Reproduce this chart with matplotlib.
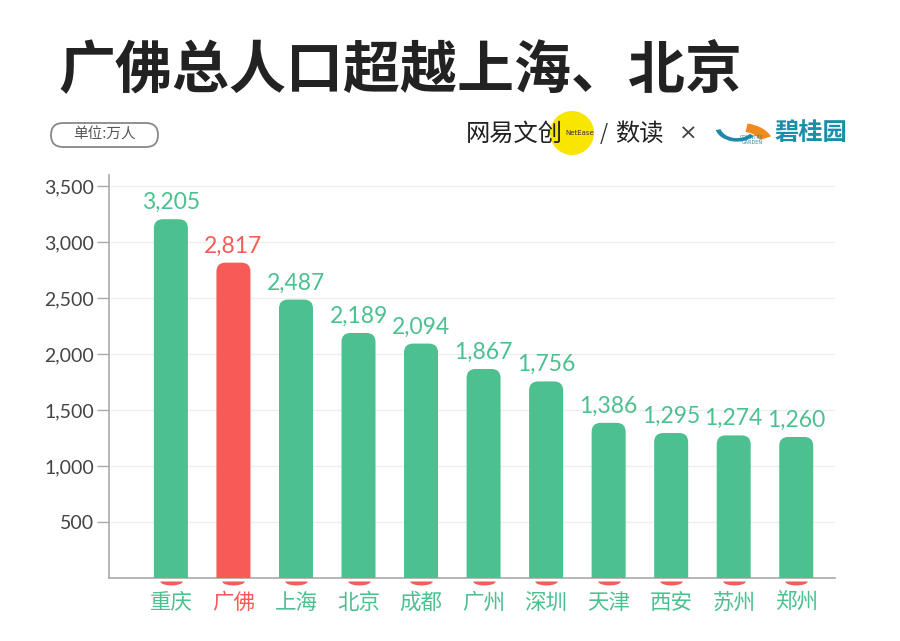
import numpy as np
import matplotlib
matplotlib.use('Agg')
import matplotlib.pyplot as plt
from matplotlib.patches import FancyBboxPatch, Ellipse, Wedge
from matplotlib.path import Path
from matplotlib.transforms import IdentityTransform

plt.rcParams['font.family'] = ['Noto Sans CJK SC', 'DejaVu Sans']

# 常住人口（万人）
cities = ['重庆', '广佛', '上海', '北京', '成都', '广州', '深圳', '天津', '西安', '苏州', '郑州']
population = [3205, 2817, 2487, 2189, 2094, 1867, 1756, 1386, 1295, 1274, 1260]
highlight = '广佛'
yticks = [500, 1000, 1500, 2000, 2500, 3000, 3500]

green = '#4cc08f'
red = '#f75a57'

W, H = 900, 641
fig = plt.figure(figsize=(9, 6.41), dpi=100)
ax = fig.add_axes([109 / W, 1 - 578 / H, (835 - 109) / W, (578 - 175) / H])

def fpos(x, y):
    return x / W, 1 - y / H

xs = np.arange(len(cities))
ax.set_xlim(-0.99, len(cities) - 0.38)
ax.set_ylim(0, 3600)

# rounded bars, corner radius corrected for axes aspect
fig.canvas.draw()
bbox = ax.get_window_extent()
x_per_px = (ax.get_xlim()[1] - ax.get_xlim()[0]) / bbox.width
y_per_px = (ax.get_ylim()[1] - ax.get_ylim()[0]) / bbox.height
bw = 34 * x_per_px
r = 9 * x_per_px
for x, v, c in zip(xs, population, cities):
    col = red if c == highlight else green
    p = FancyBboxPatch((x - bw / 2, -300), bw, v + 300,
                       boxstyle=f'round,pad=0,rounding_size={r}',
                       mutation_aspect=y_per_px / x_per_px,
                       fc=col, ec='none', zorder=3)
    ax.add_patch(p)
    ax.text(x, v + 55, f'{v:,}', ha='center', va='bottom', fontsize=16.5,
            color=col, family=['Lato', 'DejaVu Sans'], zorder=4)

# little red half-discs under the axis
t = np.linspace(np.pi, 2 * np.pi, 30)
half = Path(np.column_stack([np.cos(t), 0.35 * np.sin(t)]).tolist() + [[1, 0], [-1, 0]])
sc = ax.scatter(xs, np.zeros(len(xs)), marker=half, s=260, color=red, clip_on=False,
                zorder=2, linewidths=0)
sc.set_offsets(np.column_stack([xs, np.full(len(xs), -2.5 * y_per_px)]))

ax.set_xticks(xs)
ax.set_xticklabels(cities, fontsize=15.5)
for lbl, c in zip(ax.get_xticklabels(), cities):
    lbl.set_color(red if c == highlight else green)
ax.tick_params(axis='x', length=0, pad=10)

ax.set_yticks(yticks)
ax.set_yticklabels([f'{v:,}' for v in yticks], fontsize=14, color='#444444',
                   family=['Lato', 'DejaVu Sans'])
ax.tick_params(axis='y', length=9, width=1, color='#aaaaaa', pad=2)
ax.grid(axis='y', color='#eeeeee', lw=1, zorder=0)
ax.set_axisbelow(True)
for s in ['top', 'right']:
    ax.spines[s].set_visible(False)
for s in ['left', 'bottom']:
    ax.spines[s].set_color('#aaaaaa')
    ax.spines[s].set_linewidth(1.2)

# title
fig.text(*fpos(58, 70), '广佛总人口超越上海、北京', fontsize=41, fontweight='bold',
         color='#222222', ha='left', va='center')

# unit box
box = FancyBboxPatch((51, H - 147), 107, 24, boxstyle='round,pad=0,rounding_size=12',
                     transform=IdentityTransform(), fc='white', ec='#888888', lw=1.3)
fig.add_artist(box)
fig.text(*fpos(104, 135), '单位:万人', fontsize=10.5, color='#555555', ha='center', va='center')

# logos (approximate)
fig.add_artist(Ellipse(fpos(572, 133), 44 / W, 44 / H, transform=fig.transFigure,
                       fc='#f8e600', ec='none'))
fig.text(*fpos(466, 134), '网易文创', fontsize=17.5, color='#222222', ha='left', va='center')
fig.text(*fpos(580, 133), 'NetEase', fontsize=5, color='#333333', ha='center', va='center',
         family=['DejaVu Sans'])
fig.text(*fpos(604, 134), '/', fontsize=15, color='#333333', ha='center', va='center')
fig.text(*fpos(615, 134), '数读', fontsize=17.5, color='#222222', ha='left', va='center')
fig.text(*fpos(688, 134), '×', fontsize=16, color='#444444', ha='center', va='center',
         family=['DejaVu Sans'])
fig.add_artist(Wedge(fpos(742, 146), 32 / W, 25, 80, width=12 / W,
                     transform=fig.transFigure, fc='#f08a1c', ec='none'))
fig.add_artist(Wedge(fpos(737, 126), 22 / W, 195, 320, width=5 / W,
                     transform=fig.transFigure, fc='#1f8aa8', ec='none'))
fig.text(*fpos(752, 140), 'COUNTRY\nGARDEN', fontsize=3.5, color='#1f8aa8', ha='center',
         va='center', family=['DejaVu Sans'], linespacing=1)
fig.text(*fpos(775, 133), '碧桂园', fontsize=17.5, fontweight='bold', color='#1a8fa8',
         ha='left', va='center')

fig.savefig('out.png', dpi=100, facecolor='white')
